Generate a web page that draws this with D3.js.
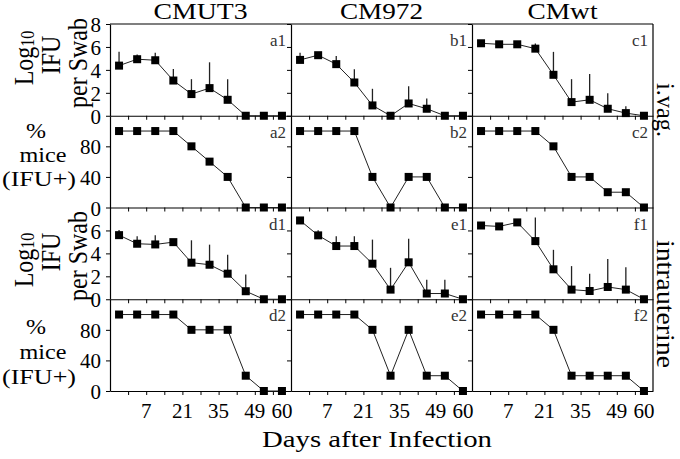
<!DOCTYPE html>
<html><head><meta charset="utf-8">
<script src="https://cdn.jsdelivr.net/npm/d3@7"></script>
<style>
body{margin:0;background:#fff}
svg text{font-family:"Liberation Serif","Times New Roman",Tinos,serif;fill:#000}
</style>
</head><body><svg id="chart" width="680" height="459"></svg>
<script>
// ---------- data ----------
const strains = ["CMUT3", "CM972", "CMwt"];
const routes = ["i.vag.", "intrauterine"];
const xTickLabels = ["7", "21", "35", "49", "60"];
const xTickAt = [1.5, 3.5, 5.5, 7.5, 9];          // sample-index positions of the day labels
const xMinorTicks = [0.5, 1.5, 2.5, 3.5, 4.5, 5.5, 6.5, 7.5, 8.5];
const logTicksLabeled = [0, 2, 4, 6, 8];
const logTicksLower = [0, 2, 4, 6];
const pctTicks = [0, 40, 80];
const panelLabels = [["a1","b1","c1"],["a2","b2","c2"],["d1","e1","f1"],["d2","e2","f2"]];

// i.vag. – log10 IFU per swab (mean) and upper error
const a1 = [4.37, 4.93, 4.84, 3.07, 1.89, 2.41, 1.39, 0, 0, 0];
const a1err = [1.2, 0.4, 0.65, 1.0, 1.3, 2.25, 1.8, 0, 0, 0];
const b1 = [4.87, 5.28, 4.5, 2.9, 0.9, 0, 1.07, 0.61, 0, 0];
const b1err = [0.63, 0.2, 0.7, 1.16, 1.45, 0, 1.5, 0.9, 0, 0];
const c1 = [6.32, 6.23, 6.23, 5.85, 3.57, 1.19, 1.39, 0.61, 0.23, 0];
const c1err = [0.15, 0.2, 0.2, 0.45, 2.0, 2.0, 2.25, 1.35, 0.6, 0];
// i.vag. – % mice IFU+
const a2 = [100, 100, 100, 100, 80, 60, 40, 0, 0, 0];
const b2 = [100, 100, 100, 100, 40, 0, 40, 40, 0, 0];
const c2 = [100, 100, 100, 100, 80, 40, 40, 20, 20, 0];
// intrauterine – log10 IFU per swab
const d1 = [5.59, 4.84, 4.78, 4.98, 3.19, 3.01, 2.23, 0.7, 0, 0];
const d1err = [0.45, 0.65, 0.8, 0.1, 1.95, 1.75, 1.65, 1.45, 0, 0];
const e1 = [6.87, 5.57, 4.64, 4.64, 3.1, 0.84, 3.22, 0.5, 0.5, 0];
const e1err = [0, 0.45, 0.85, 0.85, 2.1, 1.9, 2.05, 1.2, 1.2, 0];
const f1 = [6.43, 6.35, 6.7, 5.07, 2.61, 0.84, 0.72, 1.07, 0.84, 0];
const f1err = [0, 0.3, 0, 2.05, 1.7, 2.05, 1.5, 2.45, 1.95, 0];
// intrauterine – % mice IFU+
const d2 = [100, 100, 100, 100, 80, 80, 80, 20, 0, 0];
const e2 = [100, 100, 100, 100, 80, 20, 80, 20, 20, 0];
const f2 = [100, 100, 100, 100, 80, 20, 20, 20, 20, 0];

const rows = [
  {kind: "log", series: [a1, b1, c1], errs: [a1err, b1err, c1err], ticks: logTicksLabeled},
  {kind: "pct", series: [a2, b2, c2], ticks: pctTicks},
  {kind: "log", series: [d1, e1, f1], errs: [d1err, e1err, f1err], ticks: logTicksLower},
  {kind: "pct", series: [d2, e2, f2], ticks: pctTicks}
];

// ---------- layout ----------
const FONT = '"Liberation Serif","Times New Roman",Tinos,serif';
const svg = d3.select("#chart");
const L = 110, R = 653, T = 24, B = 391;
const colW = (R - L) / 3, rowH = (B - T) / 4;
const nPts = 10;

const xScales = strains.map((s, c) =>
  d3.scaleLinear().domain([-0.5, nPts - 0.5]).range([L + c * colW, L + (c + 1) * colW]));
const yScales = rows.map((r, i) =>
  d3.scaleLinear().domain(r.kind === "log" ? [0, 8] : [0, 120]).range([T + (i + 1) * rowH, T + i * rowH]));

// frame (top and right border)
svg.append("line").attr("x1", L).attr("x2", R).attr("y1", T).attr("y2", T)
  .attr("stroke", "#000").attr("stroke-width", 1.2);
svg.append("line").attr("x1", R).attr("x2", R).attr("y1", T).attr("y2", B)
  .attr("stroke", "#000").attr("stroke-width", 1.2);

rows.forEach((row, ri) => {
  const y = yScales[ri];
  strains.forEach((s, ci) => {
    const x = xScales[ci];
    const g = svg.append("g");
    // left axis
    const ya = d3.axisLeft(y).tickValues(row.ticks).tickSize(4).tickSizeOuter(0)
      .tickFormat(ci === 0 ? d3.format("d") : "").tickPadding(5);
    const gy = g.append("g").attr("transform", `translate(${x.range()[0]},0)`).call(ya);
    gy.attr("font-family", FONT);
    gy.select(".domain").attr("stroke-width", 1.2);
    gy.selectAll("text").attr("font-size", 21).attr("dy", "0.36em");
    // bottom axis
    const xa = d3.axisBottom(x).tickValues(xMinorTicks).tickSize(4).tickSizeOuter(0).tickFormat("");
    const gx = g.append("g").attr("transform", `translate(0,${y.range()[0]})`).call(xa);
    gx.select(".domain").attr("stroke-width", 1.2);

    const vals = row.series[ci];
    // error bars (upper only)
    if (row.errs) {
      const e = row.errs[ci];
      g.selectAll(".err").data(vals.map((v, i) => ({i, v, e: e[i]})).filter(d => d.e > 0))
        .join("line")
        .attr("x1", d => x(d.i)).attr("x2", d => x(d.i))
        .attr("y1", d => y(d.v)).attr("y2", d => y(d.v + d.e))
        .attr("stroke", "#222").attr("stroke-width", 1.3);
    }
    // connecting line
    g.append("path").datum(vals)
      .attr("d", d3.line().x((d, i) => x(i)).y(d => y(d)))
      .attr("fill", "none").attr("stroke", "#222").attr("stroke-width", 1);
    // square markers
    g.selectAll(".pt").data(vals).join("rect")
      .attr("x", (d, i) => x(i) - 4).attr("y", d => y(d) - 4)
      .attr("width", 8).attr("height", 8).attr("fill", "#000");
    // panel label
    g.append("text").attr("x", x.range()[1] - 5).attr("y", y.range()[1] + 22)
      .attr("text-anchor", "end").attr("font-size", 17).attr("font-family", FONT).style("fill", "#333")
      .text(panelLabels[ri][ci]);
    // x tick labels on the bottom row
    if (ri === rows.length - 1) {
      g.selectAll(".xl").data(xTickLabels).join("text")
        .attr("x", (d, i) => x(xTickAt[i])).attr("y", B + 27).attr("font-family", FONT)
        .attr("text-anchor", "middle").attr("font-size", 21).text(d => d);
    }
  });
});

// column titles
const titleLen = [94, 83, 70];
strains.forEach((s, ci) => {
  const x = xScales[ci];
  svg.append("text").attr("x", (x.range()[0] + x.range()[1]) / 2).attr("y", 19)
    .attr("text-anchor", "middle").attr("font-size", 23).attr("font-family", FONT)
    .attr("textLength", titleLen[ci]).attr("lengthAdjust", "spacingAndGlyphs").text(s);
});

// x-axis title
svg.append("text").attr("x", 377).attr("y", 447).attr("text-anchor", "middle").attr("font-family", FONT)
  .attr("font-size", 24).attr("textLength", 230).attr("lengthAdjust", "spacingAndGlyphs")
  .text("Days after Infection");

// y-axis titles: Log10 IFU per Swab (rows 0 and 2)
const logCenters = [[58, 55, 63], [260, 252, 256]];
const logX = [33, 60, 87];
[0, 1].forEach(k => {
  const c = logCenters[k];
  const t0 = svg.append("text").attr("transform", `translate(${logX[0]},${c[0]}) rotate(-90) scale(1,1.12)`)
    .attr("text-anchor", "middle").attr("font-size", 24).attr("font-family", FONT);
  t0.append("tspan").text("Log");
  t0.append("tspan").attr("font-size", 16).attr("dy", 1).text("10");
  svg.append("text").attr("transform", `translate(${logX[1]},${c[1]}) rotate(-90) scale(1,1.12)`)
    .attr("text-anchor", "middle").attr("font-size", 24).attr("font-family", FONT).text("IFU");
  svg.append("text").attr("transform", `translate(${logX[2]},${c[2]}) rotate(-90) scale(1,1.12)`)
    .attr("text-anchor", "middle").attr("font-size", 24).attr("font-family", FONT)
    .attr("textLength", 90).attr("lengthAdjust", "spacingAndGlyphs").text("per Swab");
});

// y-axis titles: % mice (IFU+) (rows 1 and 3)
const pctLines = ["%", "mice", "(IFU+)"];
const pctX = [36, 43, 39];
const pctBase = [[138, 162, 186], [334, 359, 384]];
pctBase.forEach(bs => {
  pctLines.forEach((t, i) => {
    svg.append("text").attr("x", pctX[i]).attr("y", bs[i]).attr("text-anchor", "middle")
      .attr("font-size", 21).attr("font-family", FONT)
      .attr("textLength", [20, 47, 74][i]).attr("lengthAdjust", "spacingAndGlyphs").text(t);
  });
});

// route labels on the right
const routeCenters = [110, 304];
const routeLen = [54, 128];
routes.forEach((r, i) => {
  svg.append("text").attr("transform", `translate(657,${routeCenters[i]}) rotate(90)`)
    .attr("text-anchor", "middle").attr("font-size", 26).attr("font-family", FONT)
    .attr("textLength", routeLen[i]).attr("lengthAdjust", "spacingAndGlyphs").text(r);
});
</script>
</body></html>
